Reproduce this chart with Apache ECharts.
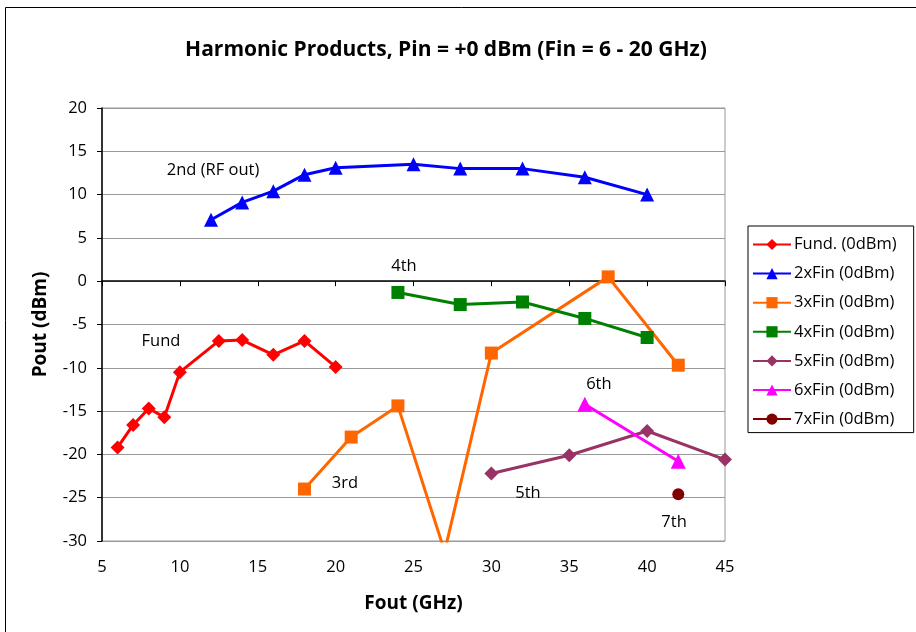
<!DOCTYPE html>
<html>
<head>
<meta charset="utf-8">
<script src="https://cdn.jsdelivr.net/npm/echarts@6/dist/echarts.min.js"></script>
<style>html,body{margin:0;padding:0;background:#fff}#c{width:916px;height:632px}</style>
</head>
<body>
<div id="c"></div>
<script>
const fundX = [6, 7, 8, 9, 10, 12.5, 14, 16, 18, 20];
const fundY = [-19.2, -16.6, -14.7, -15.7, -10.5, -6.9, -6.8, -8.5, -6.9, -9.9];
const h2X = [12, 14, 16, 18, 20, 25, 28, 32, 36, 40];
const h2Y = [7.1, 9.1, 10.4, 12.3, 13.1, 13.5, 13.0, 13.0, 12.0, 10.0];
const h3X = [18, 21, 24, 27, 30, 37.5, 42];
const h3Y = [-24.0, -18.0, -14.4, -31.2, -8.3, 0.5, -9.7];
const h4X = [24, 28, 32, 36, 40];
const h4Y = [-1.3, -2.7, -2.4, -4.3, -6.5];
const h5X = [30, 35, 40, 45];
const h5Y = [-22.2, -20.1, -17.3, -20.6];
const h6X = [36, 42];
const h6Y = [-14.2, -20.8];
const h7X = [42];
const h7Y = [-24.6];
const seriesNames = ['Fund. (0dBm)', '2xFin (0dBm)', '3xFin (0dBm)', '4xFin (0dBm)', '5xFin (0dBm)', '6xFin (0dBm)', '7xFin (0dBm)'];
const annotTexts = ['2nd (RF out)', '4th', 'Fund', '3rd', '5th', '6th', '7th'];
const annotX = [12.13, 24.39, 8.79, 20.6, 32.35, 36.9, 41.73];
const annotY = [12.84, 1.76, -6.9, -23.3, -24.46, -11.87, -27.8];

const colors = ['#ff0000', '#0000ff', '#ff6600', '#008000', '#993366', '#ff00ff', '#800000'];
const symbols = ['diamond', 'triangle', 'rect', 'rect', 'diamond', 'triangle', 'circle'];
const sizes = [14, 14, 13, 13, 14, 15, 12];
const xs = [fundX, h2X, h3X, h4X, h5X, h6X, h7X];
const ys = [fundY, h2Y, h3Y, h4Y, h5Y, h6Y, h7Y];

const FONT = 'Open Sans';
const FS = 16.5;
const chart = echarts.init(document.getElementById('c'), null, {renderer: 'canvas'});
const series = seriesNames.map((n, i) => ({
  name: n, type: 'line',
  data: xs[i].map((x, j) => [x, ys[i][j]]),
  symbol: symbols[i], symbolSize: sizes[i],
  lineStyle: {color: colors[i], width: 3},
  itemStyle: {color: colors[i]},
  clip: true, animation: false,
  emphasis: {disabled: true}
}));

chart.setOption({
  animation: false,
  backgroundColor: '#fff',
  title: {
    text: 'Harmonic Products, Pin = +0 dBm (Fin = 6 - 20 GHz)',
    left: 441, top: 35, textAlign: 'center',
    textStyle: {fontFamily: FONT, fontSize: 21, fontWeight: 'bold', color: '#000'}
  },
  grid: {left: 102, top: 108, width: 623, height: 433, show: true, borderColor: '#999', borderWidth: 1, containLabel: false},
  legend: {
    orient: 'vertical', left: 748, top: 226,
    padding: [10, 17, 5, 4],
    borderColor: '#000', borderWidth: 1,
    itemWidth: 38, itemHeight: 14, itemGap: 12.1,
    textStyle: {fontFamily: FONT, fontSize: FS, color: '#000', padding: [0, 0, 0, -2]},
    data: seriesNames
  },
  xAxis: {
    type: 'value', min: 5, max: 45, interval: 5,
    name: 'Fout (GHz)', nameLocation: 'middle', nameGap: 53,
    nameTextStyle: {fontFamily: FONT, fontSize: 19, fontWeight: 'bold', color: '#000'},
    axisLine: {show: true, lineStyle: {color: '#000', width: 1.5}},
    axisTick: {show: true, length: 5, lineStyle: {color: '#000'}},
    axisLabel: {fontFamily: FONT, fontSize: FS, color: '#000', margin: 18},
    splitLine: {show: false}
  },
  yAxis: {
    type: 'value', min: -30, max: 20, interval: 5,
    name: 'Pout (dBm)', nameLocation: 'middle', nameGap: 52,
    nameTextStyle: {fontFamily: FONT, fontSize: 19, fontWeight: 'bold', color: '#000'},
    axisLine: {show: true, lineStyle: {color: '#000', width: 1.5}},
    axisTick: {show: true, length: 5, lineStyle: {color: '#000'}},
    axisLabel: {fontFamily: FONT, fontSize: FS, color: '#000', margin: 15},
    splitLine: {show: true, lineStyle: {color: '#999', width: 1.2}}
  },
  series: series
});

const graphics = [{
  type: 'rect', shape: {x: 5.5, y: 7.5, width: 940, height: 700},
  style: {fill: null, stroke: '#000', lineWidth: 1}, silent: true, z: -1
}];
annotTexts.forEach((t, i) => {
  const p = chart.convertToPixel({gridIndex: 0}, [annotX[i], annotY[i]]);
  graphics.push({
    type: 'text', x: p[0], y: p[1], z: 10,
    style: {text: t, fill: '#000', font: FS + 'px "' + FONT + '"', textAlign: 'center', textVerticalAlign: 'middle'}
  });
});
chart.setOption({graphic: graphics});
</script>
</body>
</html>
